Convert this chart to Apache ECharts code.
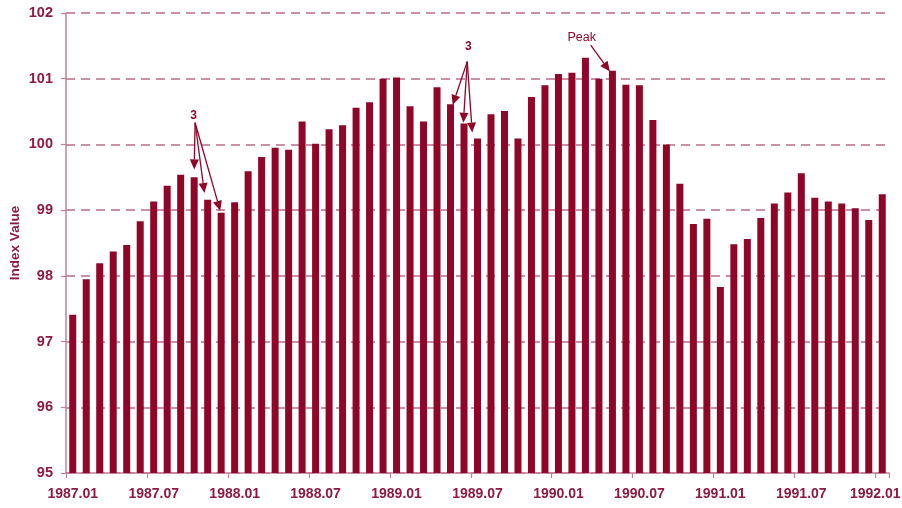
<!DOCTYPE html>
<html>
<head>
<meta charset="utf-8">
<script src="https://cdn.jsdelivr.net/npm/echarts@6/dist/echarts.min.js"></script>
<style>
html,body{margin:0;padding:0;background:#fff;}
#chart{width:902px;height:508px;}
</style>
</head>
<body>
<div id="chart"></div>
<script>
const months = [
  '1987.01','1987.02','1987.03','1987.04','1987.05','1987.06','1987.07','1987.08','1987.09','1987.10','1987.11','1987.12',
  '1988.01','1988.02','1988.03','1988.04','1988.05','1988.06','1988.07','1988.08','1988.09','1988.10','1988.11','1988.12',
  '1989.01','1989.02','1989.03','1989.04','1989.05','1989.06','1989.07','1989.08','1989.09','1989.10','1989.11','1989.12',
  '1990.01','1990.02','1990.03','1990.04','1990.05','1990.06','1990.07','1990.08','1990.09','1990.10','1990.11','1990.12',
  '1991.01','1991.02','1991.03','1991.04','1991.05','1991.06','1991.07','1991.08','1991.09','1991.10','1991.11','1991.12',
  '1992.01'
];
const indexValues = [
  97.41, 97.95, 98.19, 98.37, 98.47, 98.83, 99.13, 99.37, 99.54, 99.50, 99.16, 98.96,
  99.12, 99.59, 99.81, 99.95, 99.92, 100.35, 100.01, 100.23, 100.29, 100.56, 100.64, 101.00,
  101.02, 100.58, 100.35, 100.87, 100.61, 100.32, 100.09, 100.46, 100.51, 100.09, 100.72, 100.90,
  101.07, 101.09, 101.32, 101.00, 101.12, 100.91, 100.90, 100.37, 100.00, 99.40, 98.79, 98.87,
  97.83, 98.48, 98.56, 98.88, 99.10, 99.27, 99.56, 99.19, 99.13, 99.10, 99.03, 98.85,
  99.24
];
const yTicks = [95, 96, 97, 98, 99, 100, 101, 102];

// annotations: [category index, value] anchors
const noteText = ['3', '3', 'Peak'];
const noteLabelAt = [[8.95, 100.43], [29.32, 101.48], [37.72, 101.62]];
const noteFrom = [[9.07, 100.33], [29.24, 101.26], [38.39, 101.51]];
const noteTo = [
  [[9.0, 99.62], [9.76, 99.26], [10.93, 98.99]],
  [[28.16, 100.60], [28.95, 100.33], [29.61, 100.18]],
  [[39.81, 101.11]]
];

const RED = '#8f0629';
const TXT = '#8e1a3f';
const AXIS = '#c27f98';
const GRID = '#b96c87';
const FONT = '"Liberation Sans", Arial, sans-serif';

const chart = echarts.init(document.getElementById('chart'), null, {renderer: 'canvas'});
chart.setOption({
  animation: false,
  backgroundColor: '#ffffff',
  grid: {left: 66, right: 13, top: 13, bottom: 35, containLabel: false, outerBoundsMode: 'none'},
  xAxis: {
    type: 'category',
    data: months,
    boundaryGap: true,
    axisLine: {show: true, lineStyle: {color: AXIS, width: 1.5}},
    axisTick: {show: true, interval: 5, length: 5, lineStyle: {color: AXIS, width: 1.2}},
    axisLabel: {
      interval: 5, margin: 14, color: TXT, fontFamily: FONT, fontSize: 14, fontWeight: 'bold', hideOverlap: false,
      formatter: function (val, idx) {
        return idx === months.length - 1 ? '{last|' + val + '}' : val;
      },
      rich: {
        last: {color: TXT, fontFamily: FONT, fontSize: 14, fontWeight: 'bold', padding: [0, 14, 0, 0]}
      }
    },
    splitLine: {show: false}
  },
  yAxis: {
    type: 'value',
    min: yTicks[0],
    max: yTicks[yTicks.length - 1],
    interval: 1,
    name: 'Index Value',
    nameLocation: 'middle',
    nameGap: 44,
    nameRotate: 90,
    nameMoveOverlap: false,
    nameTextStyle: {color: TXT, fontFamily: FONT, fontSize: 13.5, fontWeight: 'bold'},
    axisLine: {show: true, lineStyle: {color: AXIS, width: 1.5}},
    axisTick: {show: true, length: 5, lineStyle: {color: AXIS, width: 1.2}},
    axisLabel: {margin: 13, color: TXT, fontFamily: FONT, fontSize: 14.5, fontWeight: 'bold'},
    splitLine: {show: true, lineStyle: {color: GRID, width: 1.5, type: [9, 6]}}
  },
  series: [{
    type: 'bar',
    data: indexValues,
    barWidth: 7,
    itemStyle: {color: RED},
    z: 3
  }]
});

function px(i, v) {
  const i0 = Math.floor(i), i1 = i0 + 1;
  const p0 = chart.convertToPixel({xAxisIndex: 0, yAxisIndex: 0}, [i0, v]);
  const p1 = chart.convertToPixel({xAxisIndex: 0, yAxisIndex: 0}, [i1, v]);
  const f = i - i0;
  return [p0[0] + (p1[0] - p0[0]) * f, p0[1]];
}

const els = [];
noteText.forEach(function (t, k) {
  const lp = px(noteLabelAt[k][0], noteLabelAt[k][1]);
  els.push({
    type: 'text', x: lp[0], y: lp[1], z: 10,
    style: {text: t, fill: RED, font: (t === 'Peak' ? 'normal 12.5px ' : 'bold 12px ') + FONT, align: 'center', verticalAlign: 'middle'}
  });
  const s = px(noteFrom[k][0], noteFrom[k][1]);
  noteTo[k].forEach(function (tp) {
    const e = px(tp[0], tp[1]);
    const dx = e[0] - s[0], dy = e[1] - s[1];
    const len = Math.sqrt(dx * dx + dy * dy);
    const ux = dx / len, uy = dy / len;
    const hl = 10, hw = 4.5;
    const bx = e[0] - ux * hl, by = e[1] - uy * hl;
    els.push({type: 'line', z: 10, shape: {x1: s[0], y1: s[1], x2: bx, y2: by}, style: {stroke: RED, lineWidth: 1.3}});
    els.push({type: 'polygon', z: 10, shape: {points: [[e[0], e[1]], [bx - uy * hw, by + ux * hw], [bx + uy * hw, by - ux * hw]]}, style: {fill: RED}});
  });
});
chart.setOption({graphic: {elements: els}});
</script>
</body>
</html>
